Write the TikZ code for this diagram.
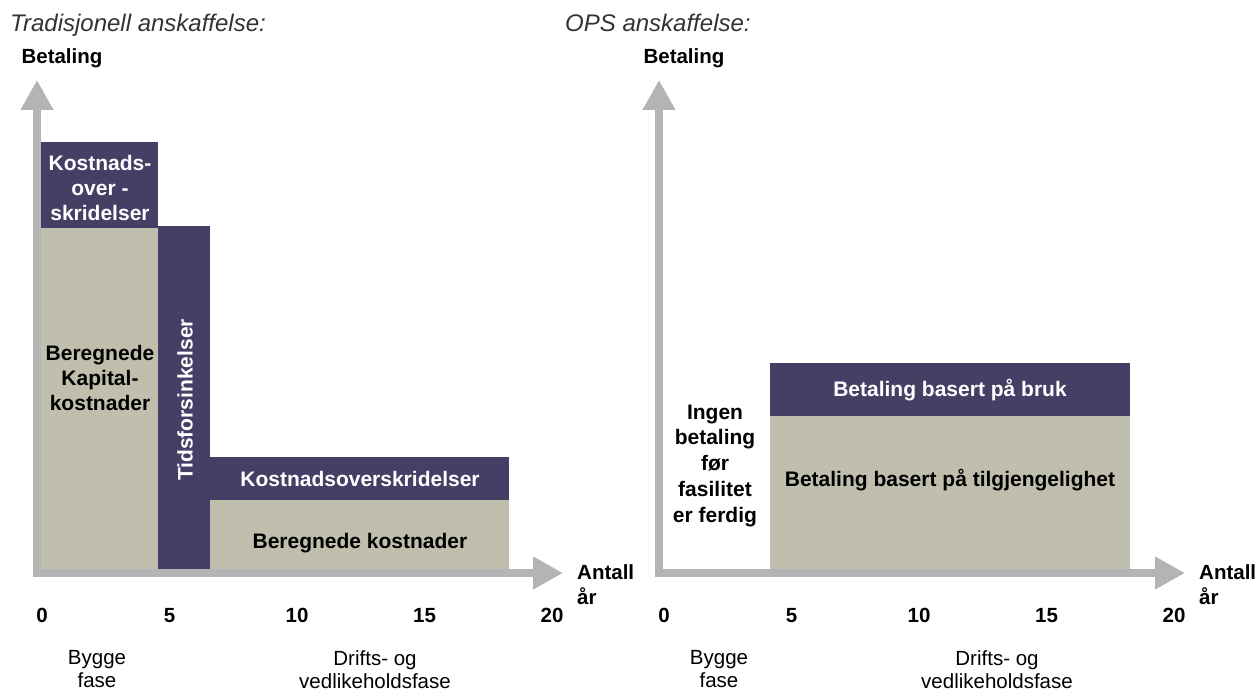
\documentclass[tikz,border=0pt]{standalone}
\usepackage{fontspec}
\setmainfont{Liberation Sans}
\usepackage{xcolor}
\definecolor{opsnavy}{RGB}{69,63,102}
\definecolor{opstan}{RGB}{192,190,173}
\definecolor{opsgray}{RGB}{180,180,180}
\definecolor{opstitle}{RGB}{51,51,51}
\usetikzlibrary{arrows.meta}

\tikzset{
  axisline/.style={draw=opsgray, line width=8pt, line join=miter,
    {Triangle[length=30pt,width=31pt]}-{Triangle[length=30pt,width=31pt]}},
  charttitle/.style={font=\fontsize{24}{28}\selectfont\itshape, text=opstitle,
    anchor=base west, inner sep=0pt},
  axislabel/.style={font=\fontsize{20.5}{25}\selectfont\bfseries, inner sep=0pt},
  phaselabel/.style={font=\fontsize{20.5}{23}\selectfont, align=center, anchor=north, inner sep=0pt},
  darktext/.style={font=\fontsize{21}{25}\selectfont\bfseries, text=white, align=center, inner sep=0pt},
  tantext/.style={font=\fontsize{21}{25}\selectfont\bfseries, text=black, align=center, inner sep=0pt},
}

\begin{document}
\begin{tikzpicture}[x=1pt, y=-1pt]
\useasboundingbox (0,0) rectangle (1259,692);

% === Titles ===
\node[charttitle] (tradtitle) at (10,32) {Tradisjonell anskaffelse:};
\node[charttitle] (opstitle) at (565,32) {OPS anskaffelse:};

% === Axes, ticks and phases (same for both charts) ===
\foreach \ch/\dx in {trad/0, ops/622} {
  \begin{scope}[xshift=\dx]
    \coordinate (\ch-ytip) at (37,80);
    \coordinate (\ch-origin) at (37,573);
    \coordinate (\ch-xtip) at (563,573);
    \draw[axisline] (\ch-ytip) -- (\ch-origin) -- (\ch-xtip);
    \node[axislabel, anchor=base] (\ch-ylabel) at (62,64) {Betaling};
    \node[axislabel, align=left, anchor=north west] (\ch-xlabel) at (577,564) {Antall\\år};
    \foreach \n [count=\i from 0] in {0,5,10,15,20}
      \node[axislabel, anchor=base] (\ch-tick\i) at ({42+127.5*\i},622) {\n};
    \node[phaselabel] (\ch-bygge) at (97,650) {Bygge\\fase};
    \node[phaselabel] (\ch-drift) at (375,650) {Drifts- og\\vedlikeholdsfase};
  \end{scope}
}

% === Tradisjonell: bars ===
\fill[opstan] (41,228) rectangle (158,569);
\fill[opsnavy] (41,142) rectangle (158,228);
\fill[opsnavy] (158,226) rectangle (210,569);
\fill[opsnavy] (210,457) rectangle (509,500);
\fill[opstan] (210,500) rectangle (509,569);

\node[darktext] (kapover) at (100,188) {Kostnads-\\over -\\skridelser};
\node[tantext] (kapital) at (100,378) {Beregnede\\Kapital-\\kostnader};
\node[darktext, rotate=90] (tid) at (185,400) {Tidsforsinkelser};
\node[darktext] (driftover) at (360,479) {Kostnadsoverskridelser};
\node[tantext] (driftkost) at (360,543) {Beregnede kostnader};

% === OPS: bars ===
\fill[opsnavy] (770,363) rectangle (1130,416);
\fill[opstan] (770,416) rectangle (1130,569);

\node[tantext, font=\fontsize{21}{26}\selectfont\bfseries] (ingen) at (715,466)
  {Ingen\\betaling\\før\\fasilitet\\er ferdig};
\node[darktext] (bruk) at (950,390) {Betaling basert på bruk};
\node[tantext] (tilgj) at (950,480) {Betaling basert på tilgjengelighet};

\end{tikzpicture}
\end{document}
